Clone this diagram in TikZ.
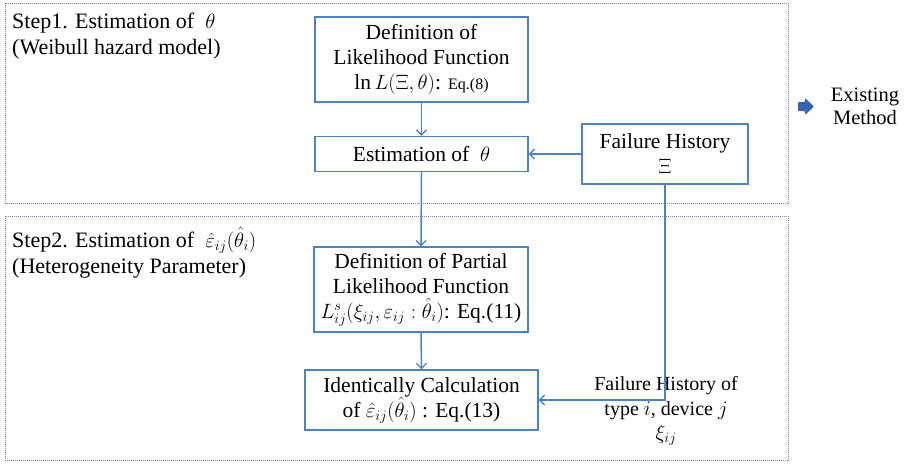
\documentclass[tikz,border=0pt]{standalone}
\usepackage{fontspec}
\setmainfont{Liberation Serif}
\usetikzlibrary{arrows.meta}
\definecolor{boxblue}{RGB}{79,129,189}
\definecolor{framecol}{RGB}{120,140,175}
\definecolor{iconblue}{RGB}{55,100,175}
\tikzset{
  stepbox/.style={draw=boxblue, line width=1.4pt, align=center, inner sep=0pt,
    font=\fontsize{21.5}{25}\selectfont},
  frame/.style={draw=framecol, line width=0.8pt, dash pattern=on 1pt off 1pt},
  arr/.style={draw=boxblue, line width=1.5pt, -{Straight Barb[length=5pt,width=10pt,line width=1.3pt]}},
  plaintext/.style={align=left, inner sep=0pt, font=\fontsize{22}{26}\selectfont},
}
\begin{document}
\begin{tikzpicture}[x=1pt,y=-1pt]
\useasboundingbox (0,0) rectangle (909,464);
% frames
\draw[frame] (5,3) rectangle (788,203);
\draw[frame] (5,216) rectangle (788,460);
% step labels
\node[plaintext, anchor=north west] (s1) at (12,13) {Step1. Estimation of~ $\theta$\\(Weibull hazard model)};
\node[plaintext, anchor=north west] (s2) at (12,227) {Step2. Estimation of~ $\hat{\varepsilon}_{ij}(\hat{\theta}_i)$\\(Heterogeneity Parameter)};
% boxes
\node[stepbox, minimum width=213pt, minimum height=85pt] (b1) at (421.5,59.5)
  {Definition of\\Likelihood Function\\$\ln L(\Xi,\theta)$: {\fontsize{16}{20}\selectfont Eq.(8)}};
\node[stepbox, minimum width=213pt, minimum height=35pt] (b2) at (421.5,154)
  {Estimation of~ $\theta$};
\node[stepbox, minimum width=166pt, minimum height=60pt] (fh) at (665,154)
  {Failure History\\$\Xi$};
\node[stepbox, minimum width=214pt, minimum height=85pt] (b3) at (421,289.5)
  {Definition of Partial\\Likelihood Function\\$L^{s}_{ij}(\xi_{ij},\varepsilon_{ij}:\hat{\theta}_i)$: Eq.(11)};
\node[stepbox, minimum width=233pt, minimum height=60pt] (b4) at (421.5,400)
  {Identically Calculation\\of $\hat{\varepsilon}_{ij}(\hat{\theta}_i)$ : Eq.(13)};
% side text
\node[align=center, inner sep=0pt, font=\fontsize{20}{24.5}\selectfont] (ft) at (666,411)
  {Failure History of\\type $i$, device $j$\\$\xi_{ij}$};
% existing method
\fill[iconblue, rounded corners=0.8pt] (798,102) -- (805,102) -- (805,98) -- (814,106.5) -- (805,115) -- (805,111) -- (798,111) -- cycle;
\node[align=center, inner sep=0pt, font=\fontsize{20.5}{23}\selectfont] (em) at (865,106)
  {Existing\\Method};
% connectors
\draw[arr] (b1.south) -- (b2.north);
\draw[arr] (fh.west) -- (b2.east);
\draw[arr] (b2.south) -- (b3.north);
\draw[arr] (b3.south) -- (b4.north);
\draw[arr] (fh.south) |- (b4.east);
\end{tikzpicture}
\end{document}
